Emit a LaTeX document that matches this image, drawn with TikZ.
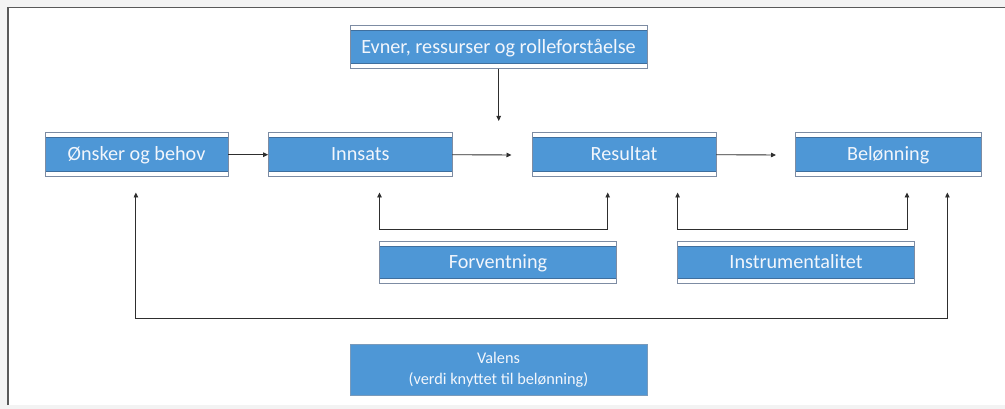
\documentclass[tikz,border=0pt]{standalone}
\usepackage{fontspec}
\setmainfont{Carlito}
\usetikzlibrary{arrows.meta}
\definecolor{boxblue}{HTML}{4E97D6}
\definecolor{bluedark}{HTML}{3F6F9E}
\definecolor{outerline}{HTML}{7D8CA3}
\definecolor{txt}{HTML}{F2F6FC}
\definecolor{linec}{HTML}{2E2E2E}
\definecolor{bgout}{HTML}{F3F3F3}
\tikzset{
  dbox/.style={draw=outerline, line width=0.8pt, fill=white, minimum height=44pt,
    inner sep=0pt, text=txt, font=\fontsize{20.2}{23}\selectfont,
    text height=15.5pt, text depth=3pt,
    path picture={\draw[fill=boxblue, draw=bluedark, line width=0.9pt]
      ([yshift=-5pt]path picture bounding box.north west) rectangle
      ([yshift=5pt]path picture bounding box.south east);}},
  plainbox/.style={draw=bluedark!70, line width=0.6pt, fill=boxblue, inner sep=0pt,
    text=txt, align=center, font=\fontsize{16.3}{21}\selectfont},
  conn/.style={draw=linec, line width=0.9pt, -{Triangle[length=5pt,width=4.5pt]}},
  conn2/.style={draw=linec, line width=0.9pt, {Triangle[length=5pt,width=4.5pt]}-{Triangle[length=5pt,width=4.5pt]}}
}
\begin{document}
\begin{tikzpicture}[x=1pt,y=-1pt]
\useasboundingbox (0,0) rectangle (1005,409);
\fill[bgout] (0,0) rectangle (1005,409);
\fill[white] (8,7.5) rectangle (1005,405);
\draw[draw=black!65, line width=1.4pt] (8,405) -- (8,7.5) -- (1005,7.5);

\node[dbox, minimum width=297pt, minimum height=42.6pt] (evner) at (498.5,47) {Evner, ressurser og rolleforståelse};
\node[dbox, minimum width=183pt] (onsker) at (136.5,154.7) {Ønsker og behov};
\node[dbox, minimum width=183.4pt] (innsats) at (360.3,154.7) {Innsats};
\node[dbox, minimum width=184pt] (resultat) at (624,154.7) {Resultat};
\node[dbox, minimum width=185.5pt] (belonning) at (888.2,154.7) {Belønning};
\node[dbox, minimum width=237pt, minimum height=42.7pt] (forv) at (498,262.3) {Forventning};
\node[dbox, minimum width=237pt, minimum height=42.7pt] (instr) at (796,262.3) {Instrumentalitet};
\node[plainbox, minimum width=297pt, minimum height=51pt] (valens) at (498.5,369.5) {Valens\\(verdi knyttet til belønning)};

\coordinate (evnerEnd) at (498.7,121);
\coordinate (innsatsEnd) at (511.5,155);
\coordinate (resultatEnd) at (776,155);
\draw[conn] (evner.south -| evnerEnd) -- (evnerEnd);
\draw[conn] (onsker.east) -- (innsats.west);
\draw[conn] (innsats.east) -- (innsatsEnd);
\draw[conn] (resultat.east) -- (resultatEnd);

\coordinate (fL) at (379.5,192.5);
\coordinate (fLb) at (379.5,229.7);
\coordinate (fRb) at (607.7,229.7);
\coordinate (fR) at (607.7,192.5);
\draw[conn2] (fL) -- (fLb) -- (fRb) -- (fR);

\coordinate (iL) at (677.6,192.5);
\coordinate (iLb) at (677.6,229.7);
\coordinate (iRb) at (907,229.7);
\coordinate (iR) at (907,192.5);
\draw[conn2] (iL) -- (iLb) -- (iRb) -- (iR);

\coordinate (vL) at (135.9,192.5);
\coordinate (vLb) at (135.9,318.7);
\coordinate (vRb) at (947.4,318.7);
\coordinate (vR) at (947.4,192.5);
\draw[conn2] (vL) -- (vLb) -- (vRb) -- (vR);
\end{tikzpicture}
\end{document}
